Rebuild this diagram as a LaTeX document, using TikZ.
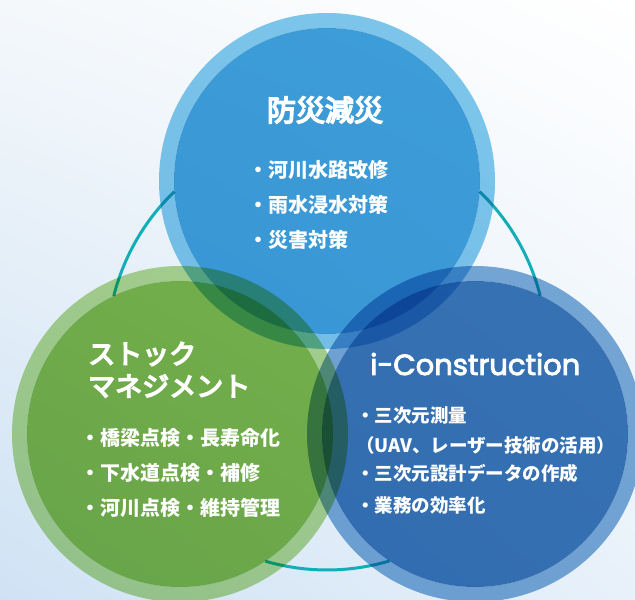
\documentclass[tikz,border=0pt]{standalone}
\usepackage{fontspec}
\setmainfont{Noto Sans CJK JP}
\newfontfamily\headfont{Noto Sans CJK JP}[FakeBold=5.5]
\newfontfamily\latinfont{Poppins}[FakeBold=3]
\usetikzlibrary{positioning,shadings}

\definecolor{skyin}{HTML}{3FA0DA}
\definecolor{skyring}{HTML}{7FC8EC}
\definecolor{leafin}{HTML}{7EB84D}
\definecolor{leafring}{HTML}{B2D890}
\definecolor{navyin}{HTML}{3A76B6}
\definecolor{navyring}{HTML}{7AABD7}
\definecolor{tealline}{HTML}{12AEB8}
\definecolor{bgtl}{HTML}{F4F8FB}
\definecolor{bgbl}{HTML}{CFE2F4}
\definecolor{bgbr}{HTML}{E8F1FA}

\tikzset{
  ring/.style={even odd rule},
  link/.style={draw=tealline, line width=3pt},
  head/.style={text=white, inner sep=0pt, font=\headfont\fontsize{28}{28}\selectfont},
  item/.style={text=white, inner sep=0pt, anchor=west, font=\bfseries\fontsize{20}{20}\selectfont},
  smallitem/.style={item, font=\bfseries\fontsize{18.5}{18.5}\selectfont}
}

\begin{document}
\begin{tikzpicture}[x=1pt, y=1pt]
  \useasboundingbox (0,0) rectangle (635,600);
  \clip (0,0) rectangle (635,600);
  \shade[upper left=bgtl, upper right=white, lower left=bgbl, lower right=bgbr]
    (0,0) rectangle (635,600);

  % circle centres
  \coordinate (bousai) at (327,419);
  \coordinate (stock) at (180,166);
  \coordinate (icon) at (475,166);
  \coordinate (hub) at (327,250);

  % teal ring behind the circles
  \coordinate (arcL) at ([shift={(133.9:220)}]hub);
  \coordinate (arcR) at ([shift={(14.3:220)}]hub);
  \coordinate (arcB) at ([shift={(253.7:220)}]hub);
  \draw[link] (arcL) arc[start angle=133.9, end angle=165.8, radius=220];
  \draw[link] (arcR) arc[start angle=14.3, end angle=46.1, radius=220];
  \draw[link] (arcB) arc[start angle=253.7, end angle=286.5, radius=220];

  % the three circles
  \begin{scope}[blend mode=multiply]
    \fill[ring, skyring] (bousai) circle (168) (bousai) circle (153);
    \fill[skyin] (bousai) circle (153);
    \fill[ring, leafring] (stock) circle (168) (stock) circle (153);
    \fill[leafin] (stock) circle (153);
    \fill[ring, navyring] (icon) circle (168) (icon) circle (153);
    \fill[navyin] (icon) circle (153);
  \end{scope}

  % 防災減災
  \node[head, font=\headfont\fontsize{29}{29}\selectfont] (bousaiT) at (325,490) {防災減災};
  \node[item] (b1) at (248,430) {・河川水路改修};
  \node[item, below=35pt of b1.west, anchor=west] (b2) {・雨水浸水対策};
  \node[item, below=35pt of b2.west, anchor=west] (b3) {・災害対策};

  % ストックマネジメント
  \node[head, anchor=west, font=\headfont\fontsize{27}{27}\selectfont] (stockT1) at (88,246) {ストック};
  \node[head, below=32pt of stockT1.west, anchor=west, font=\headfont\fontsize{27}{27}\selectfont] (stockT2) {マネジメント};
  \node[item] (s1) at (80,162) {・橋梁点検・長寿命化};
  \node[item, below=35pt of s1.west, anchor=west] (s2) {・下水道点検・補修};
  \node[item, below=35pt of s2.west, anchor=west] (s3) {・河川点検・維持管理};

  % i-Construction
  \node[head, anchor=base west, font=\latinfont\fontsize{29}{29}\selectfont] (iconT) at (370,225) {i-Construction};
  \node[smallitem] (i1) at (356,184) {・三次元測量};
  \node[smallitem, below=29pt of i1.west, anchor=west] (i2) {（UAV、レーザー技術の活用）};
  \node[smallitem, below=28pt of i2.west, anchor=west] (i3) {・三次元設計データの作成};
  \node[smallitem, below=32pt of i3.west, anchor=west] (i4) {・業務の効率化};
\end{tikzpicture}
\end{document}
